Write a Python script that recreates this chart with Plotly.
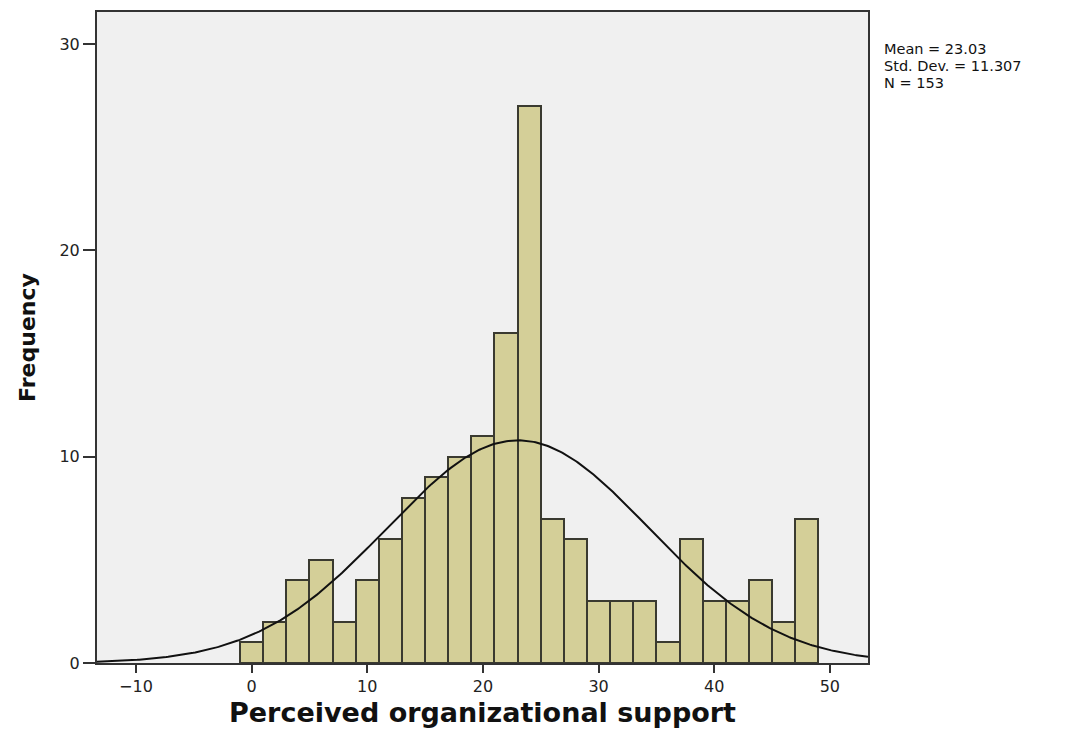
import numpy as np
import plotly.graph_objects as go

bin_centers = [0, 2, 4, 6, 8, 10, 12, 14, 16, 18, 20, 22, 24, 26, 28, 30, 32, 34, 36, 38, 40, 42, 44, 46, 48]
frequencies = [1, 2, 4, 5, 2, 4, 6, 8, 9, 10, 11, 16, 27, 7, 6, 3, 3, 3, 1, 6, 3, 3, 4, 2, 7]
bin_width = 2
mean_val = 23.03
std_val = 11.307
n_val = 153
stats_lines = ["Mean = 23.03", "Std. Dev. = 11.307", "N = 153"]

xs = np.linspace(-13.4, 53.3, 400)
ys = n_val * bin_width * np.exp(-0.5 * ((xs - mean_val) / std_val) ** 2) / (std_val * np.sqrt(2 * np.pi))

fig = go.Figure()
fig.add_trace(go.Bar(
    x=bin_centers, y=frequencies, width=bin_width,
    marker=dict(color="#d4cf98", line=dict(color="#3a3a30", width=2)),
    showlegend=False, hoverinfo="x+y"
))
fig.add_trace(go.Scatter(
    x=xs, y=ys, mode="lines", line=dict(color="#111111", width=2),
    showlegend=False, hoverinfo="skip"
))

axis_font = dict(family="DejaVu Sans", size=16, color="#222222")
stat_y = [0.9433, 0.9173, 0.8913]
annotations = [dict(
    xref="paper", yref="paper", x=1.0, y=yy, xanchor="left", yanchor="middle",
    xshift=14, align="left", showarrow=False, text=t,
    font=dict(family="DejaVu Sans", size=14.5, color="#111111"),
) for t, yy in zip(stats_lines, stat_y)]

fig.update_layout(
    width=1064, height=724,
    margin=dict(l=89, r=204, t=2, b=69),
    paper_bgcolor="white",
    plot_bgcolor="#f0f0f0",
    bargap=0,
    font=dict(family="DejaVu Sans"),
    xaxis=dict(
        range=[-13.37, 53.3], tickvals=[-10, 0, 10, 20, 30, 40, 50],
        ticks="outside", ticklen=8, tickwidth=2, tickcolor="#333333",
        showline=True, linecolor="#333333", linewidth=2, mirror=True,
        showgrid=False, zeroline=False, tickfont=axis_font,
        title=dict(text="<b>Perceived organizational support</b>",
                   font=dict(family="DejaVu Sans", size=27, color="#111111"), standoff=8),
    ),
    yaxis=dict(
        range=[0, 31.56], tickvals=[0, 10, 20, 30],
        ticks="outside", ticklen=12, tickwidth=2, tickcolor="#333333",
        showline=True, linecolor="#333333", linewidth=2, mirror=True,
        showgrid=False, zeroline=False, tickfont=axis_font,
        title=dict(text="<b>Frequency</b>",
                   font=dict(family="DejaVu Sans", size=22, color="#111111"), standoff=18),
    ),
    annotations=annotations,
)

fig.write_html("out.html")
